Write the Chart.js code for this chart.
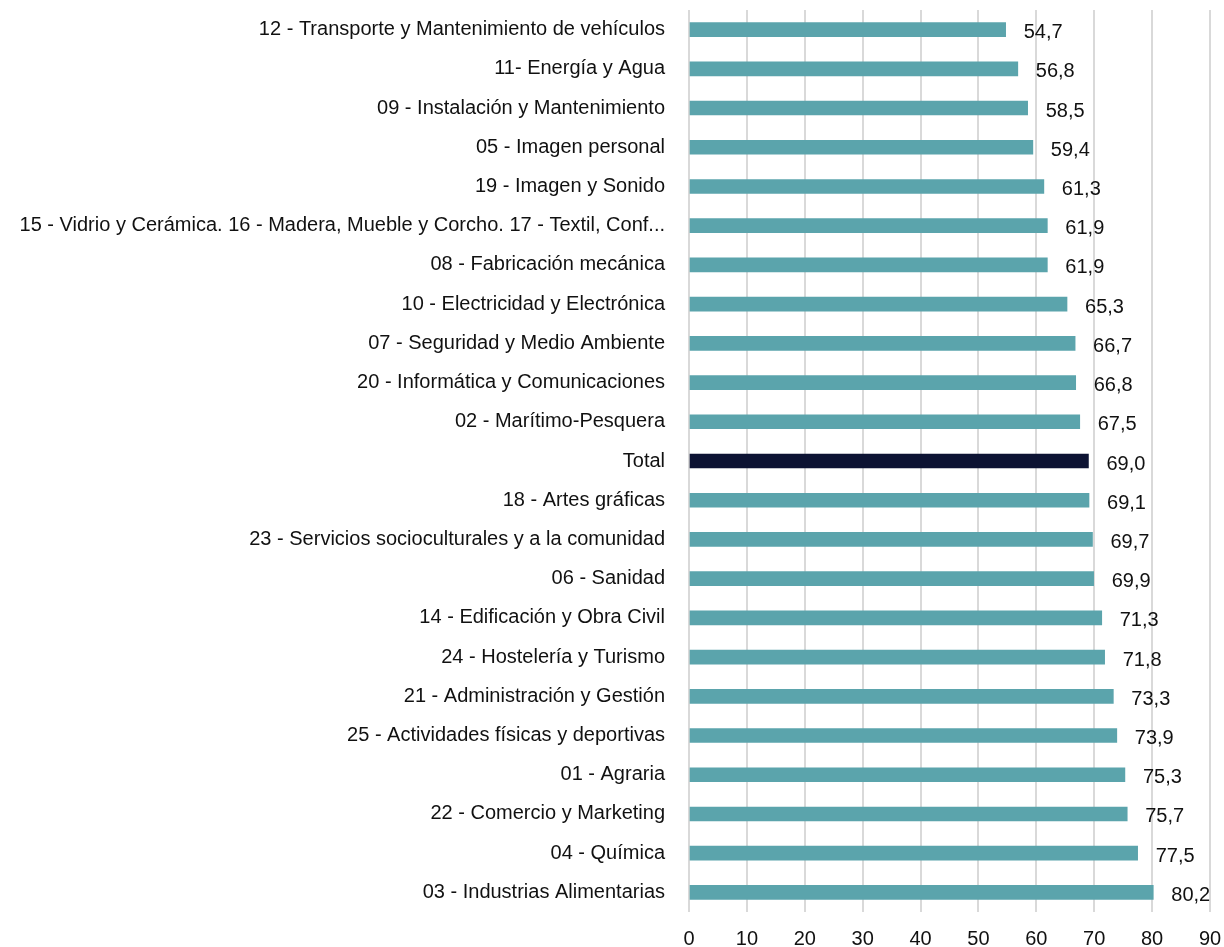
<!DOCTYPE html>
<html>
<head>
<meta charset="utf-8">
<script src="https://cdn.jsdelivr.net/npm/chart.js@4"></script>
<style>
  html, body { margin: 0; padding: 0; background: #fff; }
</style>
</head>
<body>
<canvas id="familyChart" width="1224" height="947"></canvas>
<script>
const categories = [
  "12 - Transporte y Mantenimiento de vehículos",
  "11- Energía y Agua",
  "09 - Instalación y Mantenimiento",
  "05 - Imagen personal",
  "19 - Imagen y Sonido",
  "15 - Vidrio y Cerámica. 16 - Madera, Mueble y Corcho. 17 - Textil, Conf...",
  "08 - Fabricación mecánica",
  "10 - Electricidad y Electrónica",
  "07 - Seguridad y Medio Ambiente",
  "20 - Informática y Comunicaciones",
  "02 - Marítimo-Pesquera",
  "Total",
  "18 - Artes gráficas",
  "23 - Servicios socioculturales y a la comunidad",
  "06 - Sanidad",
  "14 - Edificación y Obra Civil",
  "24 - Hostelería y Turismo",
  "21 - Administración y Gestión",
  "25 - Actividades físicas y deportivas",
  "01 - Agraria",
  "22 - Comercio y Marketing",
  "04 - Química",
  "03 - Industrias Alimentarias",
];

const values = [
  54.7, 56.8, 58.5, 59.4, 61.3, 61.9, 61.9, 65.3, 66.7, 66.8, 67.5, 69.0,
  69.1, 69.7, 69.9, 71.3, 71.8, 73.3, 73.9, 75.3, 75.7, 77.5, 80.2,
];

const xTicks = [0, 10, 20, 30, 40, 50, 60, 70, 80, 90];

const teal = "#5ba4ac";
const navy = "#0d1333";
const fontFamily = "'Liberation Sans', Arial, sans-serif";

const barColors = categories.map((c) => (c === "Total" ? navy : teal));

// value labels next to each bar, comma decimals
const valueLabels = {
  id: "valueLabels",
  afterDatasetsDraw(chart) {
    const ctx = chart.ctx;
    const meta = chart.getDatasetMeta(0);
    ctx.save();
    ctx.font = "20px " + fontFamily;
    ctx.fillStyle = "#111";
    ctx.textAlign = "left";
    ctx.textBaseline = "middle";
    meta.data.forEach((bar, i) => {
      const txt = values[i].toFixed(1).replace(".", ",");
      ctx.fillText(txt, bar.x + 18, bar.y + 3);
    });
    ctx.restore();
  },
};

const ctx = document.getElementById("familyChart");
new Chart(ctx, {
  type: "bar",
  data: {
    labels: categories,
    datasets: [
      {
        data: values,
        backgroundColor: barColors,
        borderWidth: 0,
        barThickness: 14,
      },
    ],
  },
  options: {
    indexAxis: "y",
    responsive: false,
    devicePixelRatio: 1,
    animation: false,
    layout: {
      padding: { top: 10, right: 14, bottom: 0, left: 0 },
    },
    plugins: {
      legend: { display: false },
      tooltip: { enabled: false },
    },
    scales: {
      x: {
        min: 0,
        max: 90,
        afterBuildTicks: (scale) => {
          scale.ticks = xTicks.map((v) => ({ value: v }));
        },
        afterFit: (scale) => {
          scale.height = 35;
          scale.paddingLeft = 0;
          scale.paddingRight = 0;
        },
        grid: {
          color: "#d9d9d9",
          lineWidth: 2,
          drawTicks: false,
        },
        border: { display: false },
        ticks: {
          color: "#111",
          padding: 15,
          font: { family: fontFamily, size: 20 },
        },
      },
      y: {
        afterFit: (scale) => {
          scale.width = 689;
          scale.paddingTop = 0;
          scale.paddingBottom = 0;
        },
        grid: { display: false, drawTicks: false },
        border: { display: false },
        ticks: {
          color: "#111",
          padding: 24,
          autoSkip: false,
          font: { family: fontFamily, size: 20 },
        },
      },
    },
  },
  plugins: [valueLabels],
});
</script>
</body>
</html>
